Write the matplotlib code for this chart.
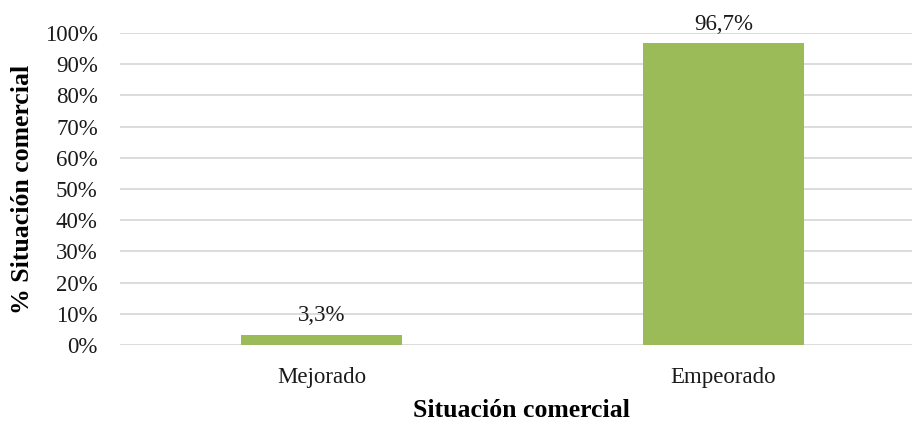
import matplotlib.pyplot as plt
from matplotlib.ticker import FuncFormatter

categories = ["Mejorado", "Empeorado"]
values = [3.3, 96.7]
yticks = [0, 10, 20, 30, 40, 50, 60, 70, 80, 90, 100]

plt.rcParams['font.family'] = ['Liberation Serif', 'DejaVu Serif']

fig = plt.figure(figsize=(9.14, 4.21), dpi=100)
ax = fig.add_axes([0.1313, 0.1805, 0.8665, 0.7411])

x = list(range(len(categories)))
bars = ax.bar(x, values, width=0.40, color="#9BBB59", zorder=3)

# value labels above bars, decimal comma
for xi, v in zip(x, values):
    ax.annotate(f"{v:.1f}%".replace(".", ","), (xi, v), textcoords="offset points",
                xytext=(0, 6), ha="center", va="bottom", fontsize=16.5, color="#1a1a1a")

ax.set_xlim(-0.501, 1.469)
ax.set_ylim(0, 100)
ax.set_yticks(yticks)
ax.yaxis.set_major_formatter(FuncFormatter(lambda v, p: f"{v:.0f}%"))
ax.set_xticks(x)
ax.set_xticklabels(categories)
ax.tick_params(length=0, labelsize=16.5, colors="#1a1a1a")
ax.tick_params(axis="x", pad=16)
ax.tick_params(axis="y", pad=16)
ax.grid(axis="y", color="#D9D9D9", linewidth=1.3, zorder=0)
for s in ax.spines.values():
    s.set_visible(False)

ax.set_xlabel("Situación comercial", fontsize=18.5, fontweight="bold", labelpad=8)
ax.xaxis.label.set_x(0.507)
ax.set_ylabel("% Situación comercial", fontsize=18.5, fontweight="bold", labelpad=8)

fig.savefig("out.png", dpi=100)
